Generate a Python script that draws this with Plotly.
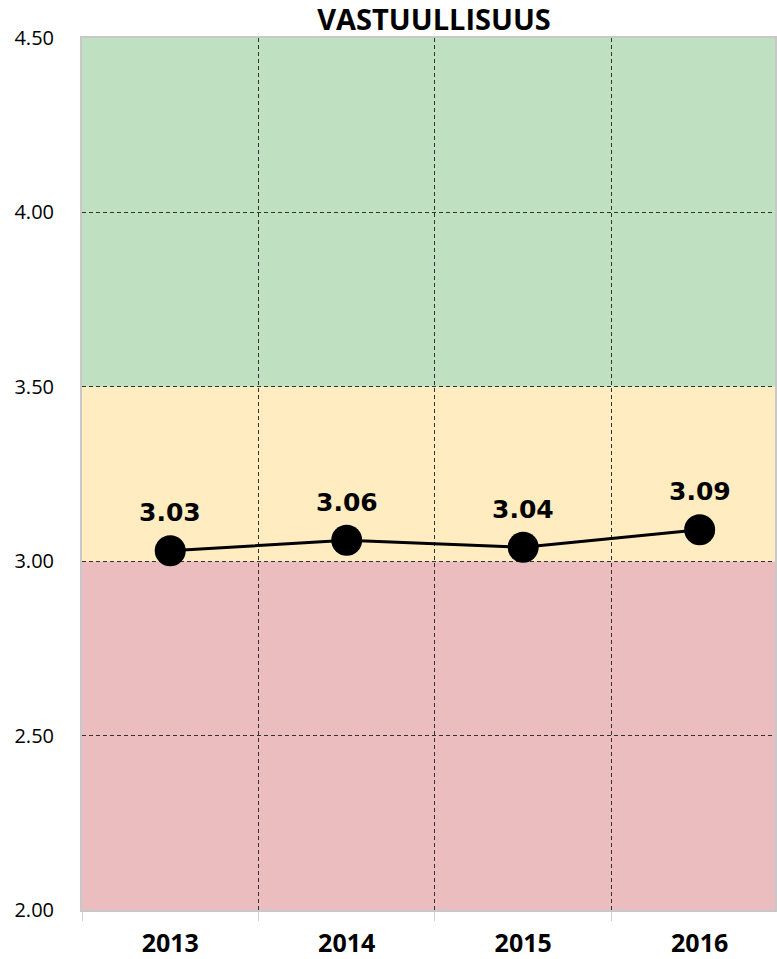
import plotly.graph_objects as go

years = ["2013", "2014", "2015", "2016"]
values = [3.03, 3.06, 3.04, 3.09]
value_labels = ["3.03", "3.06", "3.04", "3.09"]
band_lows = [2.0, 3.0, 3.5]
band_highs = [3.0, 3.5, 4.5]
band_colors = ["#ECBDBE", "#FFECC0", "#C0E1C1"]
y_ticks = [2.0, 2.5, 3.0, 3.5, 4.0, 4.5]
title_text = "VASTUULLISUUS"

fig = go.Figure()
fig.add_trace(go.Scatter(
    x=years, y=values, mode="lines+markers",
    line=dict(color="black", width=3),
    marker=dict(color="black", size=31),
    showlegend=False, hoverinfo="skip", cliponaxis=False,
))

for lo, hi, c in zip(band_lows, band_highs, band_colors):
    fig.add_shape(type="rect", xref="paper", yref="y", x0=0, x1=1, y0=lo, y1=hi,
                  fillcolor=c, line=dict(width=0), layer="below")

for i, (v, t) in enumerate(zip(values, value_labels)):
    fig.add_annotation(x=i, y=v, xref="x", yref="y", text="<b>" + t + "</b>",
                       showarrow=False, yshift=38,
                       yanchor="middle", xanchor="center",
                       font=dict(family="DejaVu Sans", size=25, color="black"))

fig.update_layout(
    width=777, height=959,
    margin=dict(l=82, r=0, t=38, b=49),
    plot_bgcolor="white", paper_bgcolor="white",
    title=dict(text="<b>" + title_text + "</b>", x=0.508, xref="paper", xanchor="center",
               y=1 - 20 / 959, yref="container", yanchor="middle",
               font=dict(family="Open Sans", size=29, color="black")),
    xaxis=dict(type="category", range=[-0.5, 3.427], tickson="boundaries",
               showgrid=True, gridcolor="#333333", griddash="4px,3px", gridwidth=1,
               ticks="outside", ticklen=9, tickcolor="#D0D0D0", tickwidth=1,
               showline=True, linecolor="#C8C8C8", linewidth=2, mirror=True,
               ticklabelstandoff=10,
               tickfont=dict(family="Open Sans", size=25, color="black", weight="bold"),
               zeroline=False),
    yaxis=dict(range=[2.0, 4.5], tickvals=y_ticks, tickformat=".2f",
               showgrid=True, gridcolor="#333333", griddash="4px,3px", gridwidth=1,
               showline=True, linecolor="#C8C8C8", linewidth=2, mirror=True,
               ticks="", ticklabelstandoff=22,
               tickfont=dict(family="Open Sans", size=20, color="black"),
               zeroline=False),
)

fig.write_html("out.html")
